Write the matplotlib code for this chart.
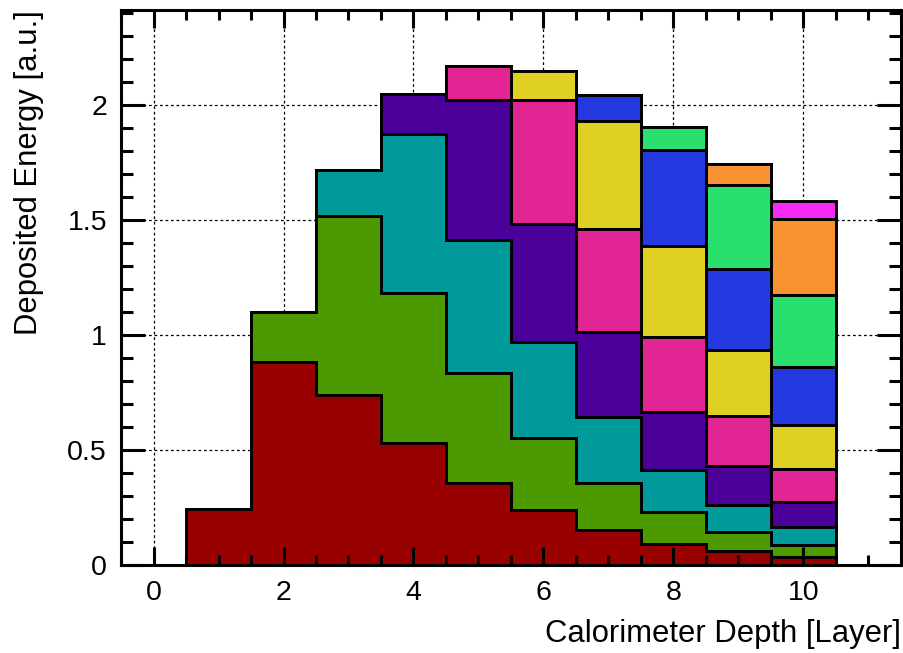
#!/usr/bin/env python3
"""Stacked longitudinal shower profile: deposited energy per calorimeter layer."""

import numpy as np
import matplotlib

matplotlib.use("Agg")
import matplotlib.pyplot as plt
from matplotlib.ticker import MultipleLocator, FuncFormatter


# calorimeter layers (bin centres) and the energy each shower component leaves there
layers = [1, 2, 3, 4, 5, 6, 7, 8, 9, 10]
comp_1 = [0.243, 0.883, 0.739, 0.529, 0.358, 0.239, 0.152, 0.091, 0.063, 0.033]
comp_2 = [0.0, 0.218, 0.780, 0.655, 0.478, 0.314, 0.205, 0.141, 0.080, 0.054]
comp_3 = [0.0, 0.0, 0.198, 0.689, 0.577, 0.418, 0.288, 0.183, 0.120, 0.078]
comp_4 = [0.0, 0.0, 0.0, 0.173, 0.609, 0.512, 0.369, 0.252, 0.167, 0.108]
comp_5 = [0.0, 0.0, 0.0, 0.0, 0.149, 0.539, 0.445, 0.326, 0.217, 0.144]
comp_6 = [0.0, 0.0, 0.0, 0.0, 0.0, 0.126, 0.473, 0.394, 0.288, 0.192]
comp_7 = [0.0, 0.0, 0.0, 0.0, 0.0, 0.0, 0.111, 0.417, 0.353, 0.253]
comp_8 = [0.0, 0.0, 0.0, 0.0, 0.0, 0.0, 0.0, 0.101, 0.364, 0.310]
comp_9 = [0.0, 0.0, 0.0, 0.0, 0.0, 0.0, 0.0, 0.0, 0.093, 0.331]
comp_10 = [0.0, 0.0, 0.0, 0.0, 0.0, 0.0, 0.0, 0.0, 0.0, 0.080]

components = [comp_1, comp_2, comp_3, comp_4, comp_5,
              comp_6, comp_7, comp_8, comp_9, comp_10]
colors = ["#990000", "#4c9a00", "#009a9a", "#4b0099", "#e12593",
          "#e0d024", "#2438e0", "#29e06f", "#f99331", "#f52af5"]

x_label = "Calorimeter Depth [Layer]"
y_label = "Deposited Energy [a.u.]"


def style_axes(ax):
    """ROOT-like frame: ticks inside on all four sides."""
    ax.set_xlim(-0.5, 11.5)
    ax.set_ylim(0.0, 2.413)
    ax.xaxis.set_major_locator(MultipleLocator(2))
    ax.xaxis.set_minor_locator(MultipleLocator(0.5))
    ax.yaxis.set_major_locator(MultipleLocator(0.5))
    ax.yaxis.set_minor_locator(MultipleLocator(0.1))
    ax.yaxis.set_major_formatter(FuncFormatter(lambda v, _: "{:g}".format(v)))

    for spine in ax.spines.values():
        spine.set_linewidth(2.2)
    ax.tick_params(axis="both", which="both", direction="in", width=2.2,
                   top=True, right=True, labelsize=20.5)
    ax.tick_params(axis="x", which="major", length=13, pad=10.5)
    ax.tick_params(axis="x", which="minor", length=7)
    ax.tick_params(axis="y", which="major", length=17, pad=10)
    ax.tick_params(axis="y", which="minor", length=8.5)


def main():
    plt.rcParams["font.family"] = ["Liberation Sans", "DejaVu Sans"]
    fig = plt.figure(figsize=(9.04, 6.53), dpi=100)
    rect = [121 / 904, 1 - 565 / 653, 780 / 904, 555 / 653]

    # grid lives on its own axes underneath, so the histograms hide it
    # while the ticks of the main axes stay on top of the fills
    grid_ax = fig.add_axes(rect)
    ax = fig.add_axes(rect, sharex=grid_ax, sharey=grid_ax)
    style_axes(ax)
    grid_ax.grid(True, which="major", color="black", linewidth=0.9,
                 linestyle=(0, (2.2, 2.2)))
    grid_ax.tick_params(which="both", length=0, labelbottom=False, labelleft=False)
    for spine in grid_ax.spines.values():
        spine.set_visible(False)
    ax.patch.set_visible(False)
    ax.set_zorder(grid_ax.get_zorder() + 1)

    edges = np.arange(0.5, 11.0, 1.0)
    ax.hist([layers] * len(components), bins=edges, weights=components,
            stacked=True, histtype="stepfilled", color=colors,
            edgecolor="black", linewidth=2.1)

    ax.set_xlabel(x_label, fontsize=22.3, loc="right")
    ax.xaxis.set_label_coords(1.0, -0.097)
    ax.set_ylabel(y_label, fontsize=22.3, loc="top")
    ax.yaxis.set_label_coords(-0.099, 1.0)

    fig.savefig("out.png", dpi=100)
    plt.close(fig)


if __name__ == "__main__":
    main()
